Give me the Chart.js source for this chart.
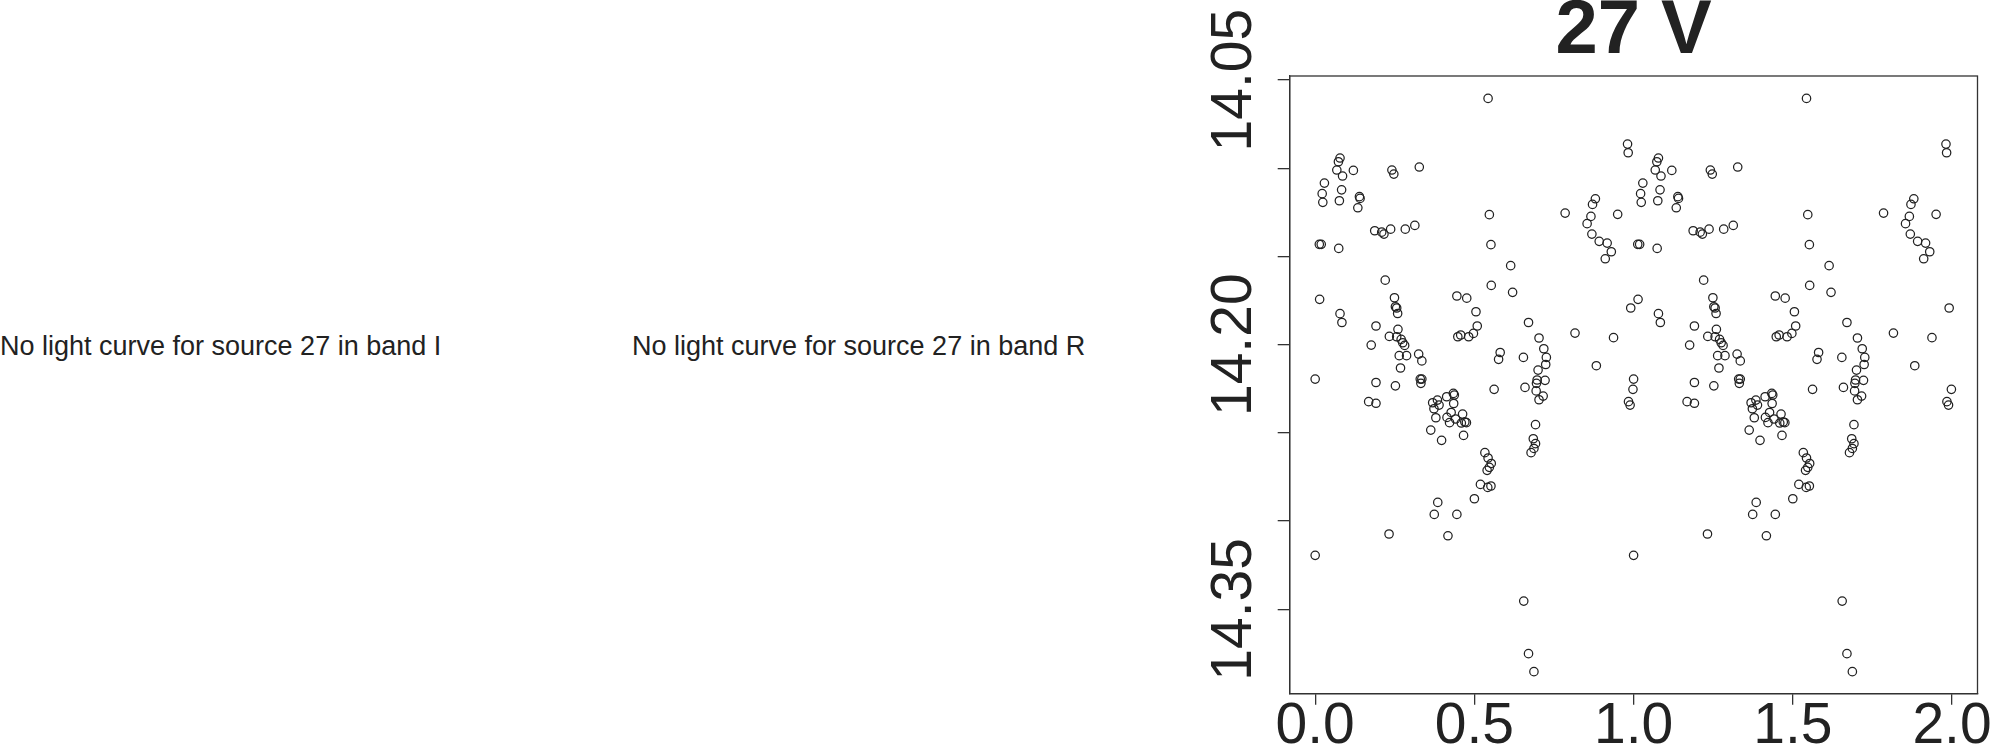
<!DOCTYPE html>
<html>
<head>
<meta charset="utf-8">
<title>27 V light curve</title>
<script src="https://cdn.jsdelivr.net/npm/chart.js@4.4.1/dist/chart.umd.min.js"></script>
<style>
	html, body { margin: 0; padding: 0; background: #fff; }
	body { width: 1993px; height: 751px; position: relative; overflow: hidden; font-family: "Liberation Sans", Arial, sans-serif; }
	.no-lc { position: absolute; top: 331px; font-size: 27px; color: #222; white-space: nowrap; }
	#lc-box { position: absolute; left: 0; top: 0; width: 1993px; height: 751px; }
</style>
</head>
<body>
<div class="no-lc" style="left:0px">No light curve for source 27 in band I</div>
<div class="no-lc" style="left:632px">No light curve for source 27 in band R</div>
<div id="lc-box"><canvas id="cnv_lc_v"></canvas></div>
<script>
// V band, one cycle of phase (plotted twice: phase and phase + 1)
const phaseV = [
	0.543, 0.981, 0.983, 0.078, 0.073, 0.068, 0.086, 0.120, 0.029, 0.022,
	0.024, 0.083, 0.076, 0.139, 0.141, 0.134, 0.241, 0.247, 0.327, 0.187,
	0.209, 0.216, 0.237, 0.283, 0.313, 0.013, 0.019, 0.074, 0.547, 0.552,
	0.614, 0.553, 0.620, 0.785, 0.880, 0.871, 0.866, 0.854, 0.869, 0.892,
	0.917, 0.930, 0.911, 0.950, 0.220, 0.014, 0.078, 0.084, 0.249, 0.252,
	0.256, 0.259, 0.260, 0.233, 0.256, 0.191, 0.445, 0.476, 0.505, 0.509,
	0.497, 0.482, 0.457, 0.448, 0.670, 0.816, 0.991, 0.000, 0.000, 0.176,
	0.191, 0.252, 0.168, 0.191, 0.232, 0.270, 0.275, 0.281, 0.264, 0.287,
	0.268, 0.325, 0.335, 0.330, 0.335, 0.332, 0.369, 0.384, 0.389, 0.373,
	0.379, 0.363, 0.397, 0.413, 0.434, 0.437, 0.435, 0.427, 0.414, 0.422,
	0.441, 0.463, 0.459, 0.470, 0.475, 0.466, 0.385, 0.374, 0.445, 0.417,
	0.533, 0.543, 0.553, 0.547, 0.540, 0.519, 0.542, 0.552, 0.500, 0.581,
	0.576, 0.654, 0.562, 0.659, 0.703, 0.718, 0.726, 0.724, 0.700, 0.697,
	0.722, 0.695, 0.694, 0.716, 0.703, 0.692, 0.685, 0.692, 0.687, 0.678,
	0.655, 0.670, 0.687, 0.937, 0.883, 0.998, 0.984, 0.989
];
const magV = [
	14.0604, 14.0863, 14.0912, 14.0942, 14.0963, 14.1010, 14.1044, 14.1012, 14.1084, 14.1144,
	14.1193, 14.1122, 14.1184, 14.1161, 14.1171, 14.1224, 14.1010, 14.1033, 14.0993, 14.1354,
	14.1362, 14.1373, 14.1345, 14.1345, 14.1324, 14.1431, 14.1431, 14.1454, 14.1263, 14.1433,
	14.1552, 14.1664, 14.1703, 14.1254, 14.1173, 14.1205, 14.1273, 14.1314, 14.1373, 14.1414,
	14.1424, 14.1473, 14.1513, 14.1261, 14.1634, 14.1743, 14.1824, 14.1874, 14.1734, 14.1785,
	14.1792, 14.1823, 14.1913, 14.1953, 14.1955, 14.1894, 14.1724, 14.1736, 14.1813, 14.1894,
	14.1936, 14.1955, 14.1945, 14.1955, 14.1874, 14.1934, 14.1792, 14.2195, 14.3194, 14.2002,
	14.2214, 14.2233, 14.2323, 14.2332, 14.3073, 14.1970, 14.1989, 14.2004, 14.2062, 14.2062,
	14.2132, 14.2053, 14.2092, 14.2195, 14.2195, 14.2219, 14.2329, 14.2314, 14.2342, 14.2363,
	14.2414, 14.2484, 14.2542, 14.2295, 14.2276, 14.2285, 14.2333, 14.2384, 14.2412, 14.2442,
	14.2421, 14.2393, 14.2444, 14.2438, 14.2442, 14.2514, 14.2894, 14.2962, 14.2962, 14.3083,
	14.2612, 14.2642, 14.2673, 14.2695, 14.2712, 14.2792, 14.2809, 14.2801, 14.2873, 14.2044,
	14.2083, 14.2072, 14.2253, 14.2242, 14.1962, 14.2023, 14.2072, 14.2112, 14.2144, 14.2200,
	14.2202, 14.2219, 14.2262, 14.2291, 14.2312, 14.2453, 14.2533, 14.2561, 14.2588, 14.2612,
	14.3453, 14.3751, 14.3853, 14.1960, 14.2119, 14.2253, 14.2323, 14.2342
];
const xTickValues = [0, 0.5, 1, 1.5, 2];
const yTickValues = [14.05, 14.10, 14.15, 14.20, 14.25, 14.30, 14.35];
const yTickLabels = ['14.05', '', '', '14.20', '', '', '14.35'];
const titleText = '27 V';

const inkColor = '#222';
const frameColor = '#333';
Chart.defaults.font.family = '"Liberation Sans", Arial, sans-serif';

// two cycles: phase and phase + 1
const lcPoints = phaseV.map((p, i) => ({ x: p, y: magV[i] }))
	.concat(phaseV.map((p, i) => ({ x: p + 1, y: magV[i] })));

// box around the plot region, like R's box()
const plotBox = {
	id: 'plotBox',
	beforeDatasetsDraw(chart) {
		const { ctx, chartArea: a } = chart;
		ctx.save();
		ctx.strokeStyle = frameColor;
		ctx.lineWidth = 1.3;
		ctx.strokeRect(a.left, a.top, a.right - a.left, a.bottom - a.top);
		ctx.restore();
	}
};

// y tick labels are rotated (read bottom to top)
const rotatedYLabels = {
	id: 'rotatedYLabels',
	afterDraw(chart) {
		const { ctx, chartArea } = chart;
		const yScale = chart.scales.y;
		ctx.save();
		ctx.fillStyle = inkColor;
		ctx.font = '57px "Liberation Sans", Arial, sans-serif';
		ctx.textAlign = 'center';
		ctx.textBaseline = 'alphabetic';
		yTickValues.forEach((v, i) => {
			if (!yTickLabels[i]) return;
			ctx.save();
			ctx.translate(chartArea.left - 38.7, yScale.getPixelForValue(v));
			ctx.rotate(-Math.PI / 2);
			ctx.fillText(yTickLabels[i], 0, 0);
			ctx.restore();
		});
		ctx.restore();
	}
};

const ctx = document.getElementById('cnv_lc_v').getContext('2d');
const lcChart = new Chart(ctx, {
	type: 'scatter',
	plugins: [plotBox, rotatedYLabels],
	data: {
		datasets: [{
			data: lcPoints,
			pointStyle: 'circle',
			pointRadius: 4.2,
			pointHoverRadius: 4.2,
			borderWidth: 1.25,
			borderColor: inkColor,
			backgroundColor: 'rgba(0,0,0,0)'
		}]
	},
	options: {
		responsive: true,
		maintainAspectRatio: false,
		animation: false,
		events: [],
		layout: { padding: { left: 1199.7, right: 15.5, top: 0, bottom: 0 } },
		plugins: {
			legend: { display: false },
			tooltip: { enabled: false },
			title: {
				display: true,
				text: titleText,
				fullSize: false,
				color: inkColor,
				font: { size: 76, weight: 'bold', lineHeight: 0.85 },
				padding: { top: 0, bottom: 11.4 }
			}
		},
		scales: {
			x: {
				type: 'linear',
				min: -0.08,
				max: 2.08,
				afterBuildTicks: (scale) => { scale.ticks = xTickValues.map(v => ({ value: v })); },
				afterFit: (scale) => { scale.height = 57.3; scale.paddingLeft = 0; scale.paddingRight = 0; },
				border: { display: true, color: frameColor, width: 1.3 },
				grid: { display: true, drawOnChartArea: false, drawTicks: true, tickLength: 11, color: frameColor, lineWidth: 1.3 },
				ticks: {
					color: inkColor,
					padding: 0,
					maxRotation: 0,
					autoSkip: false,
					font: { size: 57, lineHeight: 0.8 },
					callback: (v) => v.toFixed(1)
				}
			},
			y: {
				type: 'linear',
				reverse: true,
				min: 14.0477,
				max: 14.3978,
				afterBuildTicks: (scale) => { scale.ticks = yTickValues.map(v => ({ value: v })); },
				afterFit: (scale) => { scale.width = 90; },
				border: { display: true, color: frameColor, width: 1.3 },
				grid: { display: true, drawOnChartArea: false, drawTicks: true, tickLength: 12, color: frameColor, lineWidth: 1.3 },
				ticks: { display: false }
			}
		}
	}
});
</script>
</body>
</html>
